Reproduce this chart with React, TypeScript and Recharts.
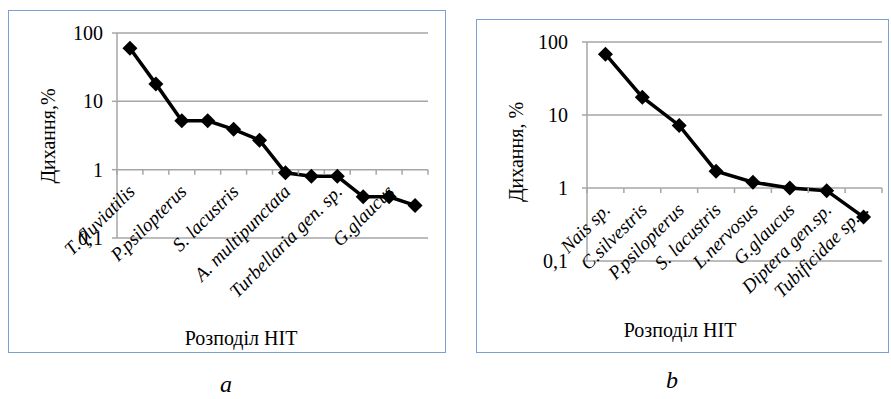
import React from "react";
import { CartesianGrid, Line, LineChart, XAxis, YAxis } from "recharts";

// chart a
const namesA = [
  "T. fluviatilis",
  "Nais sp.",
  "P.psilopterus",
  "C.silvestris",
  "S. lacustris",
  "L.nervosus",
  "A. multipunctata",
  "Diptera gen.sp.",
  "Turbellaria gen. sp.",
  "Tubificidae sp.",
  "G.glaucus",
  "Chironomidae sp.",
];
const valuesA = [60, 18, 5.2, 5.2, 3.9, 2.7, 0.9, 0.8, 0.8, 0.4, 0.4, 0.3];

// chart b
const namesB = [
  "Nais sp.",
  "C.silvestris",
  "P.psilopterus",
  "S.  lacustris",
  "L.nervosus",
  "G.glaucus",
  "Diptera gen.sp.",
  "Tubificidae sp…",
];
const valuesB = [68, 17.5, 7.2, 1.7, 1.2, 1.0, 0.92, 0.4];

const yTicks = [0.1, 1, 10, 100];

const dataA = namesA.map((name, i) => ({ name, v: valuesA[i] }));
const dataB = namesB.map((name, i) => ({ name, v: valuesB[i] }));

const FONT = "'Liberation Serif', 'Times New Roman', serif";
const GRID = "#a6a6a6";
const BOX = "#7ba0d2";

const Diamond = (props: any) => {
  const { cx, cy } = props;
  if (cx == null || cy == null) return null;
  const r = 7.5;
  return (
    <path
      d={`M${cx},${cy - r}L${cx + r},${cy}L${cx},${cy + r}L${cx - r},${cy}Z`}
      fill="#000"
    />
  );
};

// x ticks sit on the value-1 line, labels hang below it rotated
const CatTick = (props: any) => {
  const { x, payload, index, axisY, band, count, every } = props;
  const showText = index % every === 0;
  return (
    <g>
      <line x1={x - band / 2} y1={axisY} x2={x - band / 2} y2={axisY + 5} stroke={GRID} strokeWidth={1.5} />
      {index === count - 1 && (
        <line x1={x + band / 2} y1={axisY} x2={x + band / 2} y2={axisY + 5} stroke={GRID} strokeWidth={1.5} />
      )}
      {showText && (
        <text
          x={0}
          y={0}
          textAnchor="end"
          style={{ fontStyle: "italic", fontSize: 19, fontFamily: FONT }}
          fill="#000"
          transform={`translate(${x + 6},${axisY + 23}) rotate(-45)`}
        >
          {payload.value}
        </text>
      )}
    </g>
  );
};

const fmt = (v: number) => String(v).replace(".", ",");

const Panel = ({
  data,
  width,
  height,
  plotLeft,
  plotRight,
  plotBottom,
  yMargin,
  every,
}: {
  data: any[];
  width: number;
  height: number;
  plotLeft: number;
  plotRight: number;
  plotBottom: number;
  yMargin: number;
  every: number;
}) => {
  const top = 23;
  const plotH = height - top - plotBottom;
  const plotW = width - plotLeft - plotRight;
  const band = plotW / data.length;
  const axisY = top + plotH - plotH / 3;
  return (
    <LineChart
      width={width}
      height={height}
      data={data}
      margin={{ top, right: plotRight, left: 0, bottom: 0 }}
      style={{ fontFamily: FONT }}
    >
      <CartesianGrid vertical={false} stroke={GRID} strokeWidth={1.5} />
      <XAxis
        dataKey="name"
        interval={0}
        axisLine={false}
        tickLine={false}
        height={plotBottom}
        padding={{ left: band / 2, right: band / 2 }}
        tick={<CatTick axisY={axisY} band={band} count={data.length} every={every} />}
      />
      <YAxis
        scale="log"
        domain={[0.1, 100]}
        ticks={yTicks}
        allowDataOverflow
        width={plotLeft}
        tickFormatter={fmt}
        axisLine={{ stroke: GRID, strokeWidth: 1.5 }}
        tickLine={{ stroke: GRID, strokeWidth: 1.5 }}
        tickSize={5}
        tickMargin={yMargin}
        tick={{ fill: "#000", fontSize: 20, style: { fontFamily: FONT } }}
      />
      <Line
        dataKey="v"
        stroke="#000"
        strokeWidth={3.5}
        dot={<Diamond />}
        activeDot={false}
        isAnimationActive={false}
      />
    </LineChart>
  );
};

const textStyle: React.CSSProperties = {
  position: "absolute",
  fontFamily: FONT,
  fontSize: 20,
  color: "#000",
  whiteSpace: "nowrap",
  lineHeight: 1,
};

export default function App() {
  return (
    <div style={{ position: "absolute", left: 0, top: 0, width: 891, height: 399, background: "#fff", fontFamily: FONT }}>
      <div style={{ position: "absolute", left: 8, top: 10, width: 438, height: 343, boxSizing: "border-box", border: `1.5px solid ${BOX}` }} />
      <div style={{ position: "absolute", left: 8, top: 10 }}>
        <Panel data={dataA} width={438} height={343} plotLeft={109} plotRight={18} plotBottom={115} yMargin={9} every={2} />
      </div>
      <div style={{ ...textStyle, left: 48, top: 136, transform: "translate(-50%,-50%) rotate(-90deg)" }}>Дихання,%</div>
      <div style={{ ...textStyle, left: 241, top: 338, transform: "translate(-50%,-50%)" }}>Розподіл НІТ</div>

      <div style={{ position: "absolute", left: 476, top: 19, width: 413, height: 334, boxSizing: "border-box", border: `1.5px solid ${BOX}` }} />
      <div style={{ position: "absolute", left: 476, top: 19 }}>
        <Panel data={dataB} width={413} height={334} plotLeft={111} plotRight={7} plotBottom={92} yMargin={14} every={1} />
      </div>
      <div style={{ ...textStyle, left: 516, top: 152, transform: "translate(-50%,-50%) rotate(-90deg)" }}>Дихання, %</div>
      <div style={{ ...textStyle, left: 680, top: 330, transform: "translate(-50%,-50%)" }}>Розподіл НІТ</div>

      <div style={{ ...textStyle, fontSize: 24, fontStyle: "italic", left: 226, top: 384, transform: "translate(-50%,-50%)" }}>a</div>
      <div style={{ ...textStyle, fontSize: 24, fontStyle: "italic", left: 672, top: 380, transform: "translate(-50%,-50%)" }}>b</div>
    </div>
  );
}
